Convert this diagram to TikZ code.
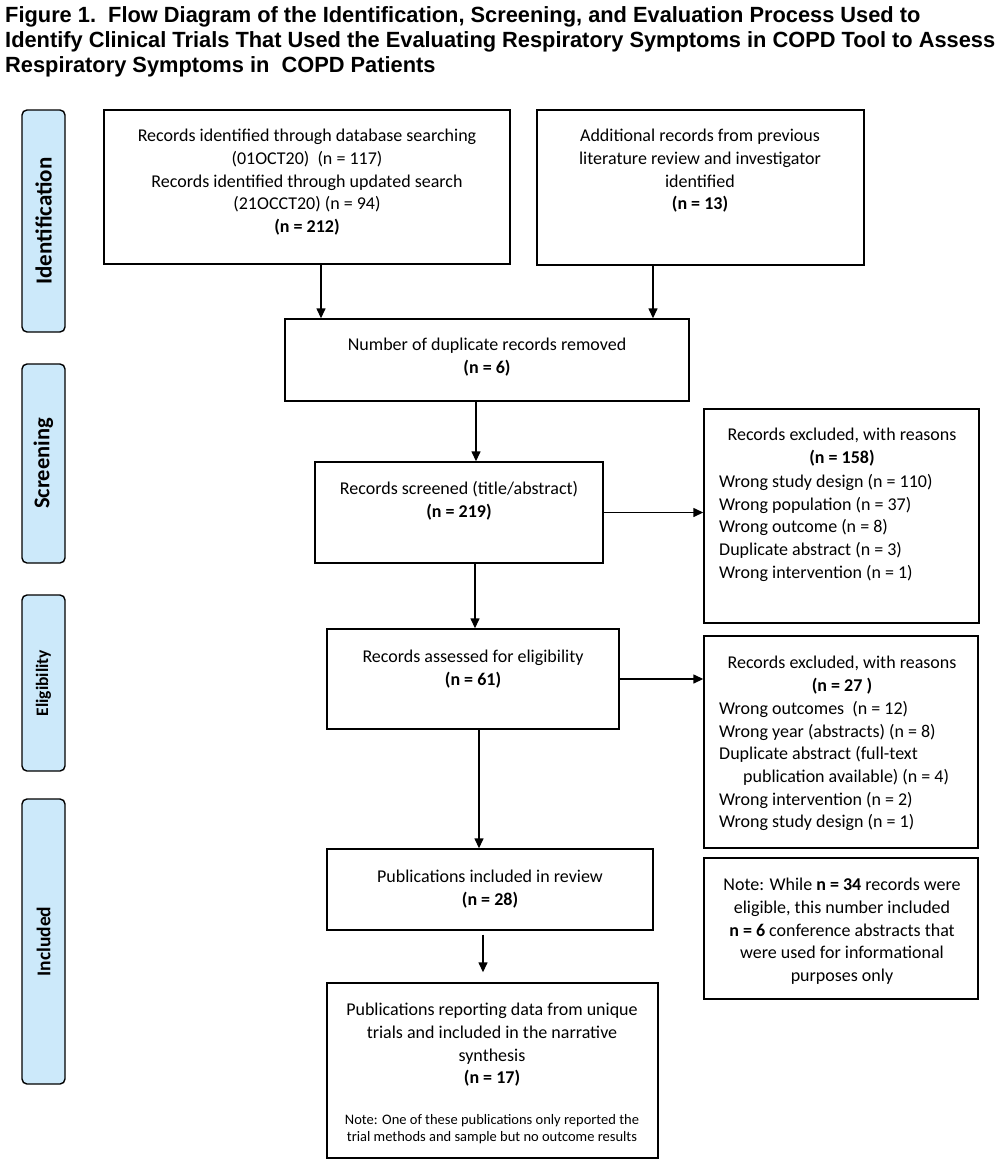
\documentclass[tikz,border=0pt]{standalone}
\usepackage{fontspec}
\setmainfont{Carlito}
\newfontfamily\titlefont{Liberation Sans}
\usetikzlibrary{arrows.meta}
\definecolor{lblue}{RGB}{204,233,250}
\newcommand\bodyfont{\fontsize{18}{22.7}\selectfont}
\newcommand\notefont{\fontsize{14.5}{17}\selectfont}
\newcommand\ttlfont{\titlefont\bfseries\fontsize{22}{26}\selectfont}
\newlength\tlw
\begin{document}
\settowidth\tlw{\ttlfont Identify Clinical Trials That Used the Evaluating Respiratory Symptoms in COPD Tool to Assess}%
\pgfmathsetmacro\tsx{990/\tlw}%
\begin{tikzpicture}[x=1pt,y=-1pt,
  box/.style={draw, line width=1.4pt, inner sep=0pt},
  lab/.style={draw, line width=1.4pt, fill=lblue, rounded corners=5pt, inner sep=0pt, rotate=90, font=\bfseries},
  txt/.style={inner sep=0pt, anchor=north, align=center, font=\bodyfont},
  ltxt/.style={inner sep=0pt, anchor=north west, align=left, font=\bodyfont},
  arr/.style={-{Triangle[length=10pt,width=9pt]}, line width=1.4pt},
  ttl/.style={inner sep=0pt, anchor=base west}]
\useasboundingbox (0,0) rectangle (1000,1176);
% title
\node[ttl] (t1) at (5,22) {\scalebox{\tsx}[1]{\ttlfont Figure 1.\ \ Flow Diagram of the Identification, Screening, and Evaluation Process Used to}};
\node[ttl] (t2) at (5,47) {\scalebox{\tsx}[1]{\ttlfont Identify Clinical Trials That Used the Evaluating Respiratory Symptoms in COPD Tool to Assess}};
\node[ttl] (t3) at (5,72) {\scalebox{\tsx}[1]{\ttlfont Respiratory Symptoms in\ \ COPD Patients}};
% side labels
\node[lab, minimum width=222pt, minimum height=43pt, font=\bfseries\fontsize{23}{26}\selectfont] (L1) at (43.5,221) {Identification};
\node[lab, minimum width=199pt, minimum height=43pt, font=\bfseries\fontsize{22.5}{25}\selectfont] (L2) at (43.5,463.5) {Screening};
\node[lab, minimum width=176pt, minimum height=43pt, font=\bfseries\fontsize{17.5}{20}\selectfont] (L3) at (43.5,683) {Eligibility};
\node[lab, minimum width=285pt, minimum height=43pt, font=\bfseries\fontsize{19.5}{22}\selectfont] (L4) at (43.5,941.5) {Included};
% boxes
\node[box, minimum width=406pt, minimum height=154pt] (A) at (307,187) {};
\node[box, minimum width=327pt, minimum height=155pt] (B) at (700.5,187.5) {};
\node[box, minimum width=404pt, minimum height=82pt] (C) at (487,360) {};
\node[box, minimum width=288pt, minimum height=101pt] (D) at (459,512.5) {};
\node[box, minimum width=292pt, minimum height=100pt] (E) at (473,679) {};
\node[box, minimum width=275pt, minimum height=214pt] (X1) at (841.5,516) {};
\node[box, minimum width=274pt, minimum height=212pt] (X2) at (841,742) {};
\node[box, minimum width=274pt, minimum height=141pt] (N) at (841,928.5) {};
\node[box, minimum width=326pt, minimum height=81pt] (F) at (490,889.5) {};
\node[box, minimum width=331pt, minimum height=175pt] (G) at (492.5,1070.5) {};
% texts
\node[txt] (At) at (307,129) {Records identified through database searching\\(01OCT20)\ \ (n = 117)\\Records identified through updated search\\(21OCCT20) (n = 94)\\\textbf{(n = 212)}};
\node[txt] (Bt) at (700,129) {Additional records from previous\\literature review and investigator\\identified\\\textbf{(n = 13)}};
\node[txt] (Ct) at (487,338) {Number of duplicate records removed\\\textbf{(n = 6)}};
\node[txt] (Dt) at (459,481) {Records screened (title/abstract)\\\textbf{(n = 219)}};
\node[txt] (Et) at (473,650) {Records assessed for eligibility\\\textbf{(n = 61)}};
\node[txt] (X1h) at (842,428) {Records excluded, with reasons\\\textbf{(n = 158)}};
\node[ltxt] (X1l) at (719,474) {Wrong study design (n = 110)\\Wrong population (n = 37)\\Wrong outcome (n = 8)\\Duplicate abstract (n = 3)\\Wrong intervention (n = 1)};
\node[txt] (X2h) at (842,656) {Records excluded, with reasons\\\textbf{(n = 27 )}};
\node[ltxt] (X2l) at (719,701) {Wrong outcomes\ \ (n = 12)\\Wrong year (abstracts) (n = 8)\\Duplicate abstract (full-text\\\hspace*{24pt}publication available) (n = 4)\\Wrong intervention (n = 2)\\Wrong study design (n = 1)};
\node[txt] (Nt) at (842,878) {Note: While \textbf{n = 34} records were\\eligible, this number included\\\textbf{n = 6} conference abstracts that\\were used for informational\\purposes only};
\node[txt] (Ft) at (490,870) {Publications included in review\\\textbf{(n = 28)}};
\node[txt] (Gt) at (492,1003) {Publications reporting data from unique\\trials and included in the narrative\\synthesis\\\textbf{(n = 17)}};
\node[txt, font=\notefont] (Gn) at (492,1114) {Note: One of these publications only reported the\\trial methods and sample but no outcome results};
% arrows
\draw[arr] ([xshift=14pt]A.south) -- ([xshift=14pt]A.south |- C.north);
\draw[arr] ([xshift=-47.5pt]B.south) -- ([xshift=-47.5pt]B.south |- C.north);
\draw[arr] ([xshift=-11pt]C.south) -- ([xshift=-11pt]C.south |- D.north);
\draw[arr] ([xshift=16pt]D.south) -- ([xshift=16pt]D.south |- E.north);
\draw[arr] (D.east) -- (D.east -| X1.west);
\draw[arr] (E.east) -- (E.east -| X2.west);
\draw[arr] ([xshift=6pt]E.south) -- ([xshift=6pt]E.south |- F.north);
\draw[arr, shorten <=4pt, shorten >=10pt] ([xshift=-7pt]F.south) -- ([xshift=-7pt]F.south |- G.north);
\end{tikzpicture}
\end{document}
